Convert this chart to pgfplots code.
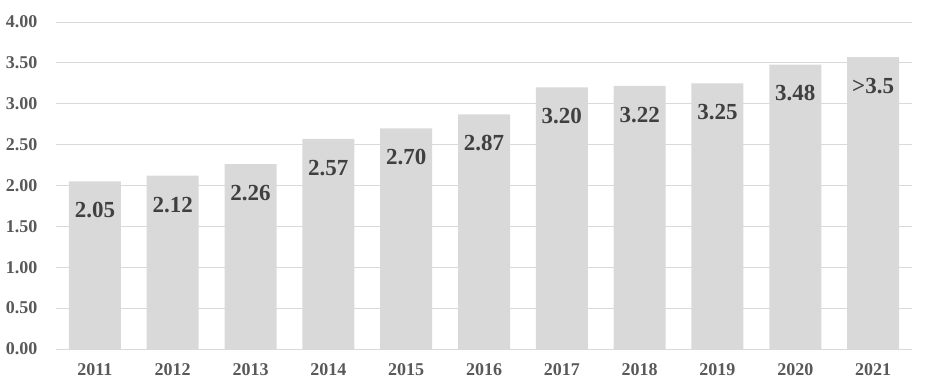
\documentclass[border=0pt]{standalone}
\usepackage{pgfplots}
\pgfplotsset{compat=1.18}
\usepackage{fontspec}
\setmainfont{Liberation Serif}
\definecolor{barc}{HTML}{D9D9D9}
\definecolor{gridc}{HTML}{D9D9D9}
\definecolor{tickc}{HTML}{595959}
\definecolor{labc}{HTML}{404040}
\begin{document}
\begin{tikzpicture}
\begin{axis}[
  scale only axis,
  width=856pt, height=327pt,
  xmin=-0.5, xmax=10.5,
  ymin=0, ymax=4,
  ytick={0,0.5,...,4},
  xtick={0,...,10},
  xticklabels={2011,2012,2013,2014,2015,2016,2017,2018,2019,2020,2021},
  ymajorgrids,
  grid style={gridc, line width=0.9pt},
  axis x line*=bottom,
  x axis line style={draw=gridc, line width=0.9pt, -},
  axis y line*=left,
  y axis line style={draw=none},
  major tick length=0pt,
  tick style={draw=none},
  ticklabel style={font=\fontsize{18}{20}\selectfont\bfseries, text=tickc},
  /pgf/number format/assume math mode=true,
  yticklabel={\pgfmathprintnumber[fixed, fixed zerofill, precision=2]{\tick}},
  xticklabel style={yshift=-11pt},
  yticklabel style={xshift=-15pt},
  clip=false,
]
\addplot[ybar, bar width=52pt, fill=barc, draw=none,
  point meta=explicit symbolic,
  nodes near coords,
  nodes near coords style={anchor=center, yshift=-29pt, font=\fontsize{23}{25}\selectfont\bfseries, text=labc},
] coordinates {
(0,2.05) [2.05]
(1,2.12) [2.12]
(2,2.26) [2.26]
(3,2.57) [2.57]
(4,2.70) [2.70]
(5,2.87) [2.87]
(6,3.20) [3.20]
(7,3.22) [3.22]
(8,3.25) [3.25]
(9,3.48) [3.48]
(10,3.57) [>3.5]
};
\coordinate (bl) at (rel axis cs:0,0);
\coordinate (tr) at (rel axis cs:1,1);
\end{axis}
\pgfresetboundingbox
\path ([xshift=-56pt,yshift=-31pt]bl) rectangle ([xshift=14pt,yshift=22pt]tr);
\end{tikzpicture}
\end{document}
